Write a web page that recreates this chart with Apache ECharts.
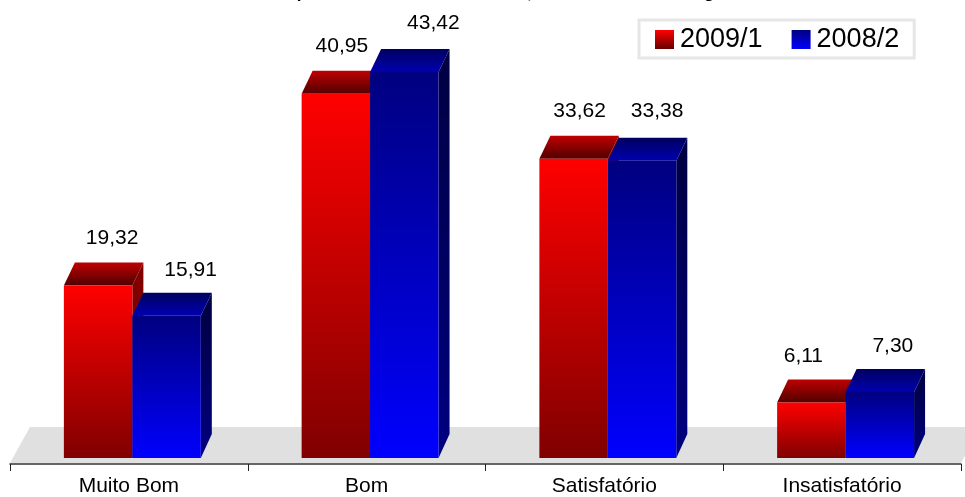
<!DOCTYPE html>
<html><head><meta charset="utf-8">
<style>html,body{margin:0;padding:0;background:#fff}#c{width:965px;height:497px}</style>
<script src="https://cdn.jsdelivr.net/npm/echarts@6/dist/echarts.min.js"></script>
</head><body><div id="c"></div>
<script>
const categories = ['Muito Bom', 'Bom', 'Satisfatório', 'Insatisfatório'];
const series2009 = [19.32, 40.95, 33.62, 6.11];
const series2008 = [15.91, 43.42, 33.38, 7.30];
const titleText = 'Desempenho Geral dos Estudantes, Curso da Área de Engenharia';
const labelShiftX2009 = [14, 6, 6, -8];
const labelShiftX2008 = [24, 29, 15, 13];
const labelShiftY2009 = [0, -1, -1, 1];
const labelShiftY2008 = [2, -2, -3, 1];

const FONT = '"Liberation Sans", Arial, sans-serif';
const DX = 11, DY = 23, DROP = 1.4;
const vgrad = (a, b) => new echarts.graphic.LinearGradient(0, 0, 0, 1, [{offset: 0, color: a}, {offset: 1, color: b}]);

function barRenderer(slot, front, top, side, shiftsX, shiftsY) {
  return function (params, api) {
    const i = api.value(0), v = api.value(1);
    const base = api.coord([i, 0]), tip = api.coord([i, v]);
    const band = api.size([1, 0])[0];
    const w = band * 0.288;
    const x0 = base[0] - 65 + slot * w, x1 = x0 + w;
    const y0 = tip[1], y1 = base[1] + DROP;
    const num = v.toFixed(2).replace('.', ',');
    return {type: 'group', children: [
      {type: 'polygon', shape: {points: [[x1, y0], [x1 + DX, y0 - DY], [x1 + DX, y1 - DY - 1], [x1, y1]]}, style: {fill: vgrad(side[0], side[1])}},
      {type: 'polygon', shape: {points: [[x0, y0], [x0 + DX, y0 - DY], [x1 + DX, y0 - DY], [x1, y0]]}, style: {fill: vgrad(top[0], top[1])}},
      {type: 'rect', shape: {x: x0, y: y0, width: w, height: y1 - y0}, style: {fill: vgrad(front[0], front[1])}},
      {type: 'text', style: {text: num, x: x0 + w / 2 + shiftsX[i], y: y0 - DY - 24 + shiftsY[i], align: 'center', verticalAlign: 'middle', font: '21px ' + FONT, fill: '#000'}, z2: 50}
    ]};
  };
}
const floorRenderer = function (params, api) {
  const cs = params.coordSys, y = api.coord([0, 0])[1];
  const l = cs.x, r = cs.x + cs.width;
  return {type: 'polygon', shape: {points: [[l, y + 6.4], [l + 20, y - 29.6], [r + 20, y - 29.6], [r, y + 6.4]]}, style: {fill: '#e0e0e0'}};
};

const chart = echarts.init(document.getElementById('c'), null, {renderer: 'canvas'});
chart.setOption({
  animation: false,
  backgroundColor: '#fff',
  title: {text: titleText, left: 236, top: -20, textStyle: {fontFamily: FONT, fontWeight: 'bold', fontSize: 17, color: '#000'}},
  grid: {left: 10, right: 4, top: 13.6, bottom: 39.4},
  legend: {
    left: 639, top: 20, orient: 'horizontal', data: [
      {name: '2009/1', icon: 'rect', itemStyle: {color: vgrad('#ff0000', '#660000')}},
      {name: '2008/2', icon: 'rect', itemStyle: {color: vgrad('#000080', '#0000ff')}}
    ],
    itemWidth: 19, itemHeight: 19, itemGap: 29, padding: [6, 15, 5, 16],
    borderColor: '#e6e6e6', borderWidth: 3, backgroundColor: '#fff',
    textStyle: {fontFamily: FONT, fontSize: 27, color: '#000', padding: [0, 0, 0, 1]}
  },
  xAxis: {type: 'category', data: categories, offset: 7.4, boundaryGap: true, z: 10,
    axisLine: {onZero: false, lineStyle: {color: '#333', width: 1.5}},
    axisTick: {show: true, length: 7, lineStyle: {color: '#222', width: 1}},
    axisLabel: {fontFamily: FONT, fontSize: 21, color: '#000', margin: 12, interval: 0}},
  yAxis: {type: 'value', min: 0, max: 50, show: false, splitLine: {show: false}},
  series: [
    {type: 'custom', name: 'floor', coordinateSystem: 'cartesian2d', renderItem: floorRenderer, data: [[0, 0]], z: 1, silent: true, encode: {x: 0, y: 1}},
    {type: 'custom', name: '2009/1', coordinateSystem: 'cartesian2d', z: 2, encode: {x: 0, y: 1},
      renderItem: barRenderer(0, ['#ff0000', '#800000'], ['#c00000', '#500000'], ['#800000', '#800000'], labelShiftX2009, labelShiftY2009),
      itemStyle: {color: vgrad('#ff0000', '#660000')},
      data: series2009.map((v, i) => [i, v])},
    {type: 'custom', name: '2008/2', coordinateSystem: 'cartesian2d', z: 3, encode: {x: 0, y: 1},
      renderItem: barRenderer(1, ['#000080', '#0000ff'], ['#000060', '#0000b0'], ['#000040', '#000080'], labelShiftX2008, labelShiftY2008),
      itemStyle: {color: vgrad('#000080', '#0000ff')},
      data: series2008.map((v, i) => [i, v])}
  ]
});
</script></body></html>
